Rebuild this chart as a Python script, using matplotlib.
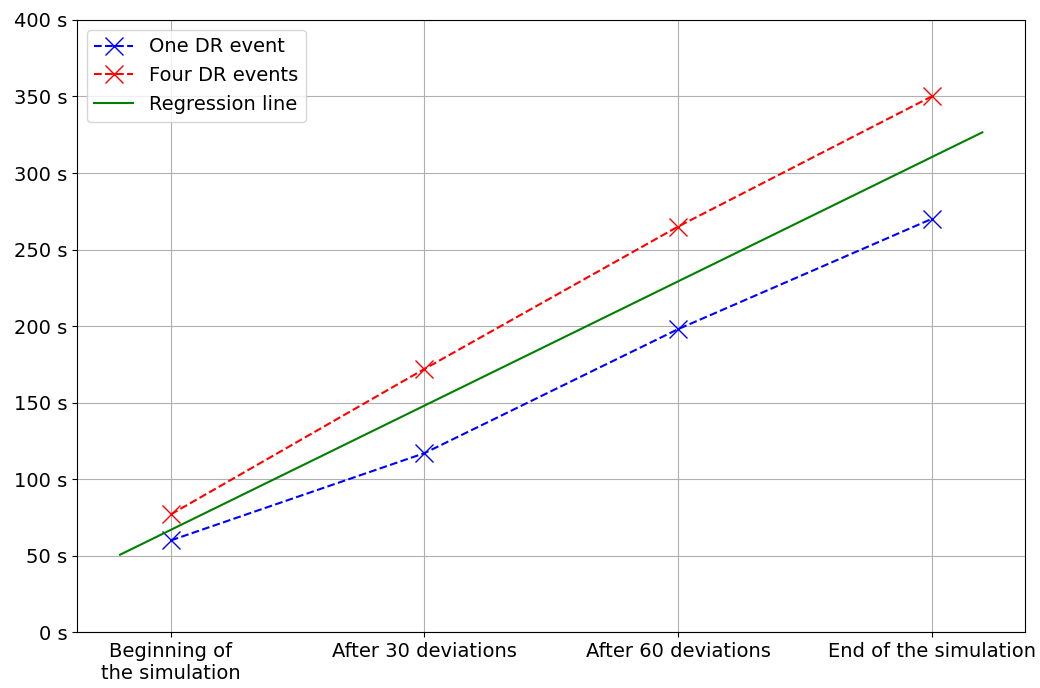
import numpy as np
import matplotlib
matplotlib.use("Agg")
import matplotlib.pyplot as plt
from matplotlib.ticker import FuncFormatter

# Stages of the simulation (x axis) and measured times in seconds
stages = ['Beginning of\nthe simulation', 'After 30 deviations',
          'After 60 deviations', 'End of the simulation']
one_dr = [60, 117, 198, 270]
four_dr = [77, 172, 265, 350]

x = np.arange(len(stages))

# Regression through both series
slope, intercept = np.polyfit(np.concatenate([x, x]), np.array(one_dr + four_dr), 1)
x_reg = np.array([-0.2, len(stages) - 1 + 0.2])

plt.rcParams['font.size'] = 14

fig, ax = plt.subplots(figsize=(10.4, 6.88), dpi=100)

ax.plot(x, one_dr, 'bx--', markersize=13, label='One DR event')
ax.plot(x, four_dr, 'rx--', markersize=13, label='Four DR events')
ax.plot(x_reg, slope * x_reg + intercept, 'g-', label='Regression line')

ax.set_xticks(x)
ax.set_xticklabels(stages)
ax.set_ylim(0, 400)
ax.yaxis.set_major_formatter(FuncFormatter(lambda v, p: f'{v:.0f} s'))
ax.grid(True)
ax.legend(loc='upper left')

fig.subplots_adjust(left=0.074, right=0.986, top=0.971, bottom=0.081)
fig.savefig('out.png', dpi=100)
